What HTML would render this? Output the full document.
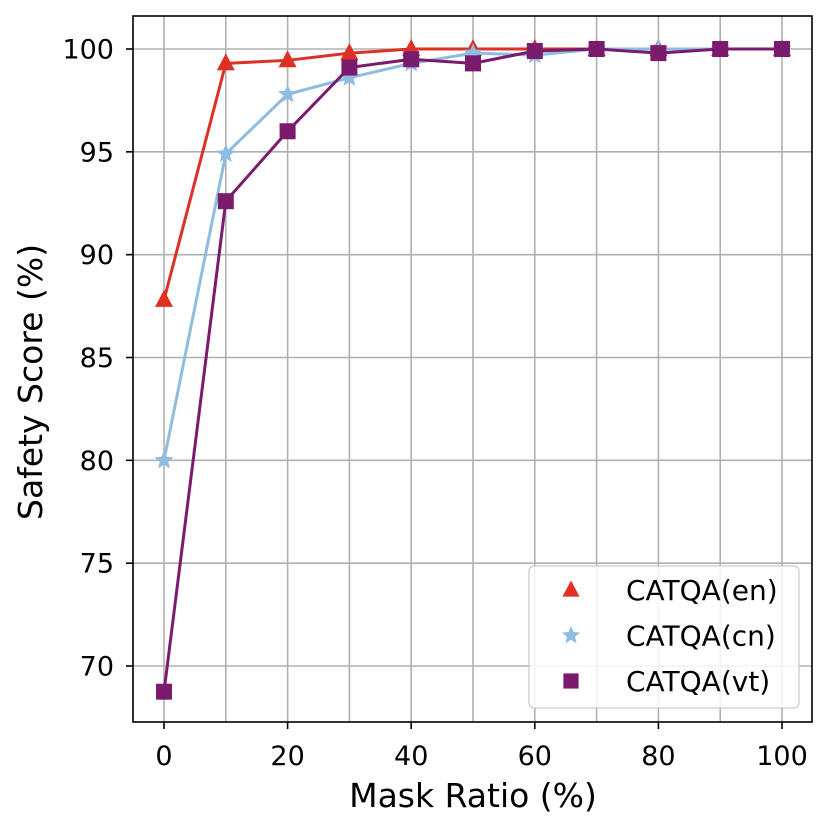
<!DOCTYPE html>
<html><head><meta charset="utf-8"><style>
body{margin:0;background:#fff;}
svg{display:block;font-family:"DejaVu Sans","Liberation Sans",sans-serif;}
</style></head><body>
<svg id="chart" width="831" height="830" viewBox="0 0 831 830" xmlns="http://www.w3.org/2000/svg"></svg>
<script>
const xValues=[0,10,20,30,40,50,60,70,80,90,100];
const enValues=[87.8,99.3,99.45,99.8,100,100,100,100,100,100,100];
const cnValues=[80.0,94.9,97.8,98.6,99.3,99.8,99.7,100,100,100,100];
const vtValues=[68.75,92.6,96.0,99.1,99.5,99.3,99.9,100,99.8,100,100];
const xTicks=[0,20,40,60,80,100];
const yTicks=[70,75,80,85,90,95,100];
const seriesNames=["CATQA(en)","CATQA(cn)","CATQA(vt)"];

const L=133,R=812,T=16,B=722;
const sx=v=>164+(v-0)*(782-164)/100;
const sy=v=>49+(100-v)*(666-49)/30;
const NS="http://www.w3.org/2000/svg";
const svg=document.getElementById('chart');
function mk(tag,attrs,parent){const e=document.createElementNS(NS,tag);for(const k in attrs)e.setAttribute(k,attrs[k]);(parent||svg).appendChild(e);return e;}

const grid=mk('g',{});


xTicks.concat([10,30,50,70,90]).forEach(t=>{mk('line',{x1:sx(t),x2:sx(t),y1:T,y2:B,stroke:'#b0b0b0','stroke-width':1.6},grid);});
yTicks.forEach(t=>{mk('line',{x1:L,x2:R,y1:sy(t),y2:sy(t),stroke:'#b0b0b0','stroke-width':1.6},grid);});

const colors=['#dc3124','#8fbde1','#7a1b6d'];
const data=[enValues,cnValues,vtValues];
const markerFns=[
 (g,x,y,c,s)=>mk('polygon',{points:`${x},${y-10*s} ${x-9*s},${y+7*s} ${x+9*s},${y+7*s}`,fill:c},g),
 (g,x,y,c,s)=>{let p=[];for(let i=0;i<10;i++){const r=(i%2?4.5:10)*s,a=-Math.PI/2+i*Math.PI/5;p.push((x+r*Math.cos(a)).toFixed(1)+','+(y+r*Math.sin(a)).toFixed(1));}return mk('polygon',{points:p.join(' '),fill:c},g);},
 (g,x,y,c,s)=>mk('rect',{x:x-8*s,y:y-8*s,width:16*s,height:16*s,fill:c},g)
];
const names=['series-en','series-cn','series-vt'];
data.forEach((vals,si)=>{
 const g=mk('g',{});
 
 
 mk('polyline',{points:vals.map((v,i)=>sx(xValues[i])+','+sy(v)).join(' '),fill:'none',stroke:colors[si],'stroke-width':3},g);
 vals.forEach((v,i)=>{const m=markerFns[si](g,sx(xValues[i]),sy(v),colors[si],1);
  
  });
});

const frame=mk('rect',{x:L,y:T,width:R-L,height:B-T,fill:'none',stroke:'#000','stroke-width':1.6});



xTicks.forEach(t=>{mk('line',{x1:sx(t),x2:sx(t),y1:B,y2:B+7,stroke:'#000','stroke-width':1.6});
 const tx=mk('text',{x:sx(t),y:765,'text-anchor':'middle','font-size':27,fill:'#000'});tx.textContent=t;
 
 });
yTicks.forEach(t=>{mk('line',{x1:L-7,x2:L,y1:sy(t),y2:sy(t),stroke:'#000','stroke-width':1.6});
 const tx=mk('text',{x:114,y:sy(t)+9.5,'text-anchor':'end','font-size':27,fill:'#000'});tx.textContent=t;
 
 });

const xt=mk('text',{x:473,y:807,'text-anchor':'middle','font-size':33,fill:'#000'});xt.textContent='Mask Ratio (%)';


const yt=mk('text',{x:0,y:0,'text-anchor':'start','font-size':33,fill:'#000',transform:`translate(42,520) rotate(-90)`});yt.textContent='Safety Score (%)';



const lg=mk('g',{});


mk('rect',{x:529,y:566,width:270,height:142,rx:5,fill:'#fff','fill-opacity':0.85,stroke:'#ccc','stroke-width':1.3},lg);
seriesNames.forEach((n,i)=>{const y=590+i*45.5;
 const m=markerFns[i](lg,571,y,colors[i],0.95);
 
 
 const t=mk('text',{x:626,y:y+10,'font-size':28,fill:'#000'},lg);t.textContent=n;
 
 });
</script>
</body></html>
